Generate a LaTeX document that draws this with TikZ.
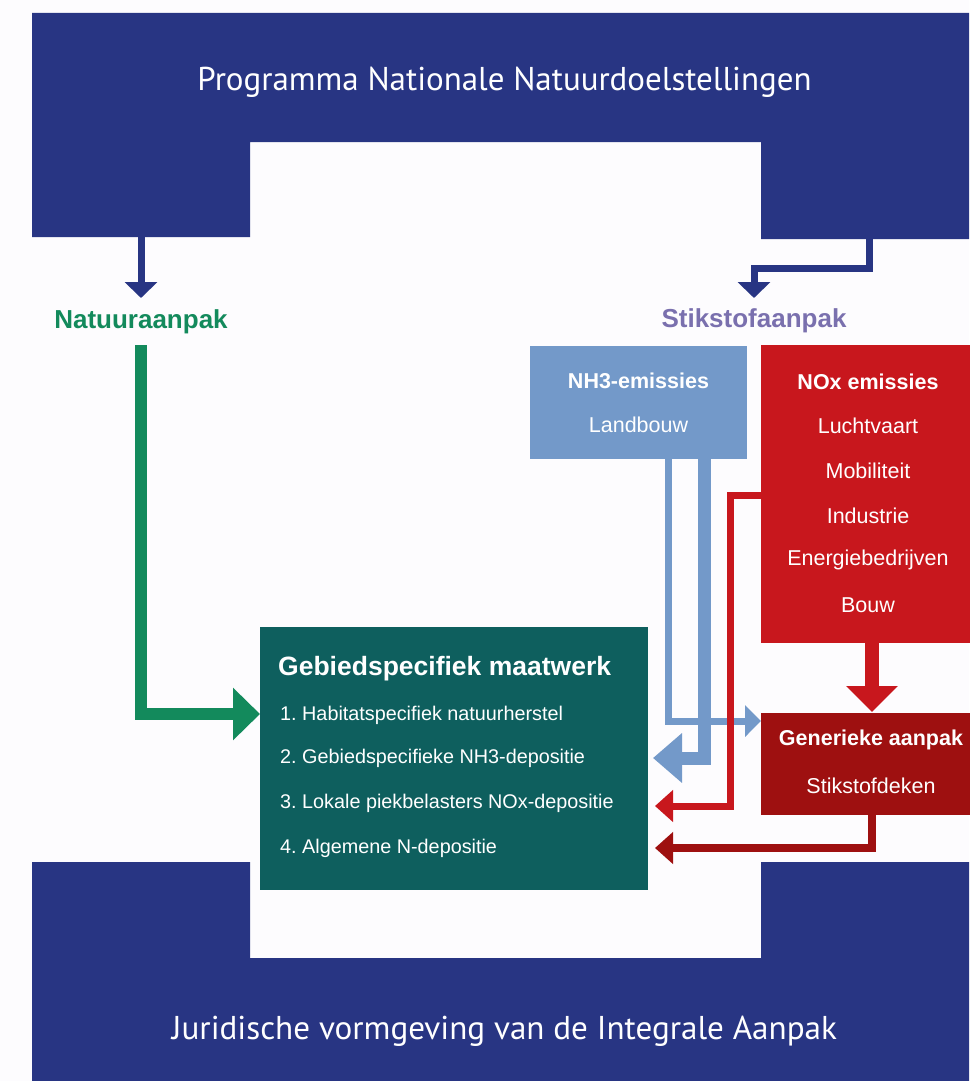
\documentclass[tikz,border=0pt]{standalone}
\usepackage{fontspec}
\setmainfont{Liberation Sans}
\newfontfamily\dinfont{PT Sans}
\usetikzlibrary{arrows.meta}
\frenchspacing
\definecolor{navy}{HTML}{283583}
\definecolor{tealbox}{HTML}{0E5F5E}
\definecolor{natgreen}{HTML}{138A5C}
\definecolor{stikpurple}{HTML}{7A70AE}
\definecolor{nhblue}{HTML}{7399C9}
\definecolor{noxred}{HTML}{C8171D}
\definecolor{genred}{HTML}{9E1010}
\definecolor{bgwhite}{HTML}{FDFCFE}
\tikzset{
  box/.style={draw=none, rectangle, inner sep=0pt, anchor=north west},
  wtext/.style={text=white, font=\fontsize{21.5}{24}\selectfont, inner sep=0pt},
  wbold/.style={text=white, font=\bfseries\fontsize{21.5}{24}\selectfont, inner sep=0pt},
  itemtext/.style={text=white, font=\fontsize{19.8}{22}\selectfont, inner sep=0pt, anchor=west},
  title/.style={text=white, font=\dinfont\fontsize{33}{36}\selectfont, inner sep=0pt},
  lbl/.style={font=\bfseries\fontsize{26}{28}\selectfont, inner sep=0pt},
  conn/.style={line cap=butt, line join=miter},
}
\begin{document}
\begin{tikzpicture}[x=1pt,y=-1pt]
\fill[bgwhite] (0,0) rectangle (969,1081);
\useasboundingbox (0,0) rectangle (969,1081);
% banners
\fill[navy] (32,13) -- (969,13) -- (969,239) -- (761,239) -- (761,142) -- (250,142) -- (250,237) -- (32,237) -- cycle;
\fill[navy] (32,862) -- (250,862) -- (250,958) -- (761,958) -- (761,862) -- (969,862) -- (969,1081) -- (32,1081) -- cycle;
\node[title] (ptitle) at (504.5,82) {\resizebox{614pt}{\height}{Programma Nationale Natuurdoelstellingen}};
\node[title] (jtitle) at (504.5,1031) {\resizebox{665pt}{\height}{Juridische vormgeving van de Integrale Aanpak}};
\coordinate (topL) at (141,237);
\coordinate (topR) at (869,239);
% labels
\node[lbl, text=natgreen] (natlbl) at (141,322) {Natuuraanpak};
\node[lbl, text=stikpurple] (stiklbl) at (754,321) {Stikstofaanpak};
% boxes
\node[box, fill=nhblue, minimum width=217pt, minimum height=113pt] (nh3) at (530,346) {};
\node[box, fill=noxred, minimum width=210pt, minimum height=298pt] (nox) at (761,345) {};
\node[box, fill=genred, minimum width=210pt, minimum height=102pt] (gen) at (761,713) {};
\node[box, fill=tealbox, minimum width=388pt, minimum height=263pt] (maat) at (260,627) {};
% texts
\node[wbold] (nh3t) at (638.5,381) {NH3-emissies};
\node[wtext] (nh3a) at (638.5,425) {Landbouw};
\node[wbold] (noxt) at (868,382) {NOx emissies};
\node[wtext] (nox1) at (868,426) {Luchtvaart};
\node[wtext] (nox2) at (868,471) {Mobiliteit};
\node[wtext] (nox3) at (868,516) {Industrie};
\node[wtext] (nox4) at (868,560) {Energiebedrijven};
\node[wtext] (nox5) at (868,605) {Bouw};
\node[wbold] (gent) at (871,740) {Generieke aanpak};
\node[wtext] (gena) at (871,786) {Stikstofdeken};
\node[text=white, font=\bfseries\fontsize{26.5}{28}\selectfont, inner sep=0pt, anchor=west] (maatt) at (278,669) {Gebiedspecifiek maatwerk};
\node[itemtext] (m1) at (280,715) {1. Habitatspecifiek natuurherstel};
\node[itemtext] (m2) at (280,758) {2. Gebiedspecifieke NH3-depositie};
\node[itemtext] (m3) at (280,803) {3. Lokale piekbelasters NOx-depositie};
\node[itemtext] (m4) at (280,848) {4. Algemene N-depositie};
% connectors: navy
\draw[conn, navy, line width=7pt, -{Triangle[width=32pt,length=16pt]}] (topL) -- (topL |- 0,298);
\draw[conn, navy, line width=7pt, -{Triangle[width=32pt,length=16pt]}] (topR) -- (869,268.5) -- (754,268.5) -- (754,298);
% green
\draw[conn, natgreen, line width=12pt, -{Triangle[width=51pt,length=27pt]}] (141,345) -- (141,714) -- (maat.west |- 0,714);
% blue
\draw[conn, nhblue, line width=7pt, -{Triangle[width=31pt,length=16pt]}] (668,459) -- (668,721) -- (gen.west |- 0,721);
\draw[conn, nhblue, line width=13pt, -{Triangle[width=48pt,length=29pt]}] (704,459) -- (704,758) -- (653,758);
% red
\draw[conn, noxred, line width=7pt, -{Triangle[width=31pt,length=18pt]}] (nox.west |- 0,495) -- (730.5,495) -- (730.5,806) -- (655,806);
\draw[conn, noxred, line width=14pt, -{Triangle[width=50pt,length=26pt]}] (872,643) -- (872,712);
% dark red
\draw[conn, genred, line width=8pt, -{Triangle[width=31pt,length=18pt]}] (872,815) -- (872,848) -- (655,848);
\end{tikzpicture}
\end{document}
